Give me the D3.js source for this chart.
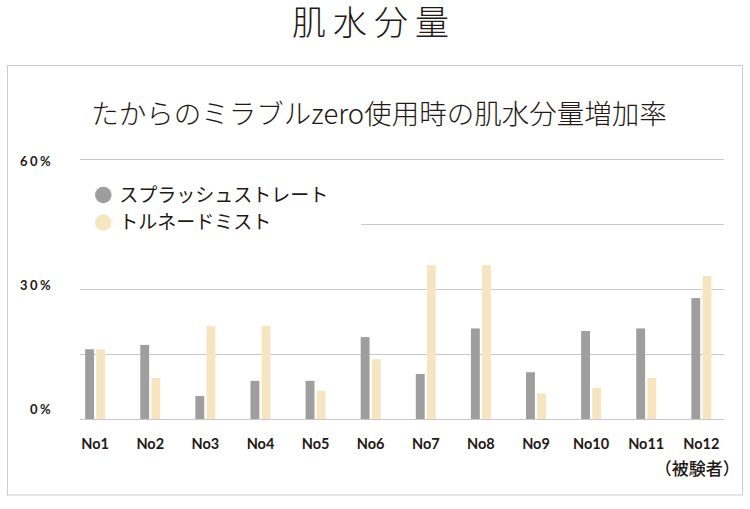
<!DOCTYPE html>
<html>
<head>
<meta charset="utf-8">
<script src="https://cdn.jsdelivr.net/npm/d3@7"></script>
<style>
  html, body { margin: 0; padding: 0; background: #fff; }
  svg { display: block; }
</style>
</head>
<body>
<svg id="chart"></svg>
<script>
// data (percent increase)
var categories = ["No1","No2","No3","No4","No5","No6","No7","No8","No9","No10","No11","No12"];
var seriesNames = ["スプラッシュストレート", "トルネードミスト"];
var splashValues = [16.1, 17.1, 5.3, 8.8, 8.8, 18.9, 10.4, 20.9, 10.8, 20.3, 20.9, 27.9];
var tornadoValues = [16.1, 9.5, 21.5, 21.5, 6.5, 13.8, 35.5, 35.5, 5.9, 7.2, 9.5, 33.0];
var gridTicks = [0, 15, 30, 45, 60];
var labelTicks = [0, 30, 60];

var colors = ["#9e9e9e", "#f5e6c1"];
var ink = "#231815";
var cjk = "'Noto Sans CJK JP', 'Noto Sans', sans-serif";
var latin = "Lato, 'Noto Sans', sans-serif";

var width = 750, height = 509;
var svg = d3.select("#chart")
    .attr("width", width)
    .attr("height", height);

// big heading
svg.append("text")
    .attr("x", 374)
    .attr("y", 35)
    .attr("text-anchor", "middle")
    .attr("font-family", cjk)
    .attr("font-weight", 300)
    .attr("font-size", 34)
    .attr("letter-spacing", 7)
    .attr("fill", ink)
    .text("肌水分量");

// frame
svg.append("rect")
    .attr("x", 7.5).attr("y", 65.5)
    .attr("width", 735).attr("height", 429.5)
    .attr("fill", "none")
    .attr("stroke", "#cbcbcb");

svg.append("text")
    .attr("x", 379)
    .attr("y", 124)
    .attr("text-anchor", "middle")
    .attr("font-family", cjk)
    .attr("font-weight", 300)
    .attr("font-size", 27.5)
    .attr("fill", ink)
    .text("たからのミラブルzero使用時の肌水分量増加率");

var y = d3.scaleLinear().domain([0, 60]).range([419, 159]);
// tick labels sit a bit off the grid in the original
var yLabel = d3.scaleLinear().domain([0, 60]).range([409.3, 161.7]);

var x0 = d3.scaleBand().domain(categories).range([67.6, 728.9]);
var x1 = d3.scaleBand().domain(seriesNames).range([-10, 10]).paddingInner(0.2);

svg.append("g").selectAll("line")
    .data(gridTicks)
    .enter()
    .append("line")
    .attr("x1", 80).attr("x2", 724)
    .attr("y1", function(d) { return Math.round(y(d)) + 0.5; })
    .attr("y2", function(d) { return Math.round(y(d)) + 0.5; })
    .attr("stroke", "#c8c8c8");

svg.append("g").selectAll("text")
    .data(labelTicks)
    .enter()
    .append("text")
    .attr("x", 53)
    .attr("y", function(d) { return yLabel(d); })
    .attr("dy", "0.36em")
    .attr("text-anchor", "end")
    .attr("font-family", latin)
    .attr("font-weight", 700)
    .attr("font-size", 13)
    .attr("letter-spacing", 2.4)
    .attr("fill", ink)
    .text(function(d) { return d + "%"; });

// bars
var rows = categories.map(function(c, i) {
    return { cat: c, values: [splashValues[i], tornadoValues[i]] };
});

var groups = svg.append("g").selectAll("g")
    .data(rows)
    .enter()
    .append("g")
    .attr("transform", function(d) { return "translate(" + (x0(d.cat) + x0.bandwidth() / 2) + ",0)"; });

groups.selectAll("rect")
    .data(function(d) {
        return d.values.map(function(v, j) { return { name: seriesNames[j], value: v, idx: j }; });
    })
    .enter()
    .append("rect")
    .attr("x", function(d) { return x1(d.name); })
    .attr("width", x1.bandwidth())
    .attr("y", function(d) { return y(d.value); })
    .attr("height", function(d) { return y(0) - y(d.value); })
    .attr("fill", function(d) { return colors[d.idx]; });

// category labels
svg.append("g").selectAll("text")
    .data(categories)
    .enter()
    .append("text")
    .attr("x", function(d) { return x0(d) + x0.bandwidth() / 2; })
    .attr("y", 449)
    .attr("text-anchor", "middle")
    .attr("font-family", latin)
    .attr("font-weight", 700)
    .attr("font-size", 14.5)
    .attr("fill", ink)
    .text(function(d) { return d; });

svg.append("text")
    .attr("x", x0("No12") + x0.bandwidth() / 2 - 4)
    .attr("y", 475)
    .attr("text-anchor", "middle")
    .attr("font-family", cjk)
    .attr("font-weight", 500)
    .attr("font-size", 17)
    .attr("fill", ink)
    .text("（被験者）");

// legend, white box hides the grid line behind it
var legend = svg.append("g");
legend.append("rect")
    .attr("x", 79).attr("y", 180)
    .attr("width", 282).attr("height", 58)
    .attr("fill", "#fff");

var items = legend.selectAll("g")
    .data(seriesNames)
    .enter()
    .append("g")
    .attr("transform", function(d, i) { return "translate(103.3," + (195 + i * 27.5) + ")"; });

items.append("circle")
    .attr("r", 8.3)
    .attr("fill", function(d, i) { return colors[i]; });

items.append("text")
    .attr("x", 16)
    .attr("dy", "0.36em")
    .attr("font-family", cjk)
    .attr("font-weight", 400)
    .attr("font-size", 19)
    .attr("fill", ink)
    .text(function(d) { return d; });
</script>
</body>
</html>
